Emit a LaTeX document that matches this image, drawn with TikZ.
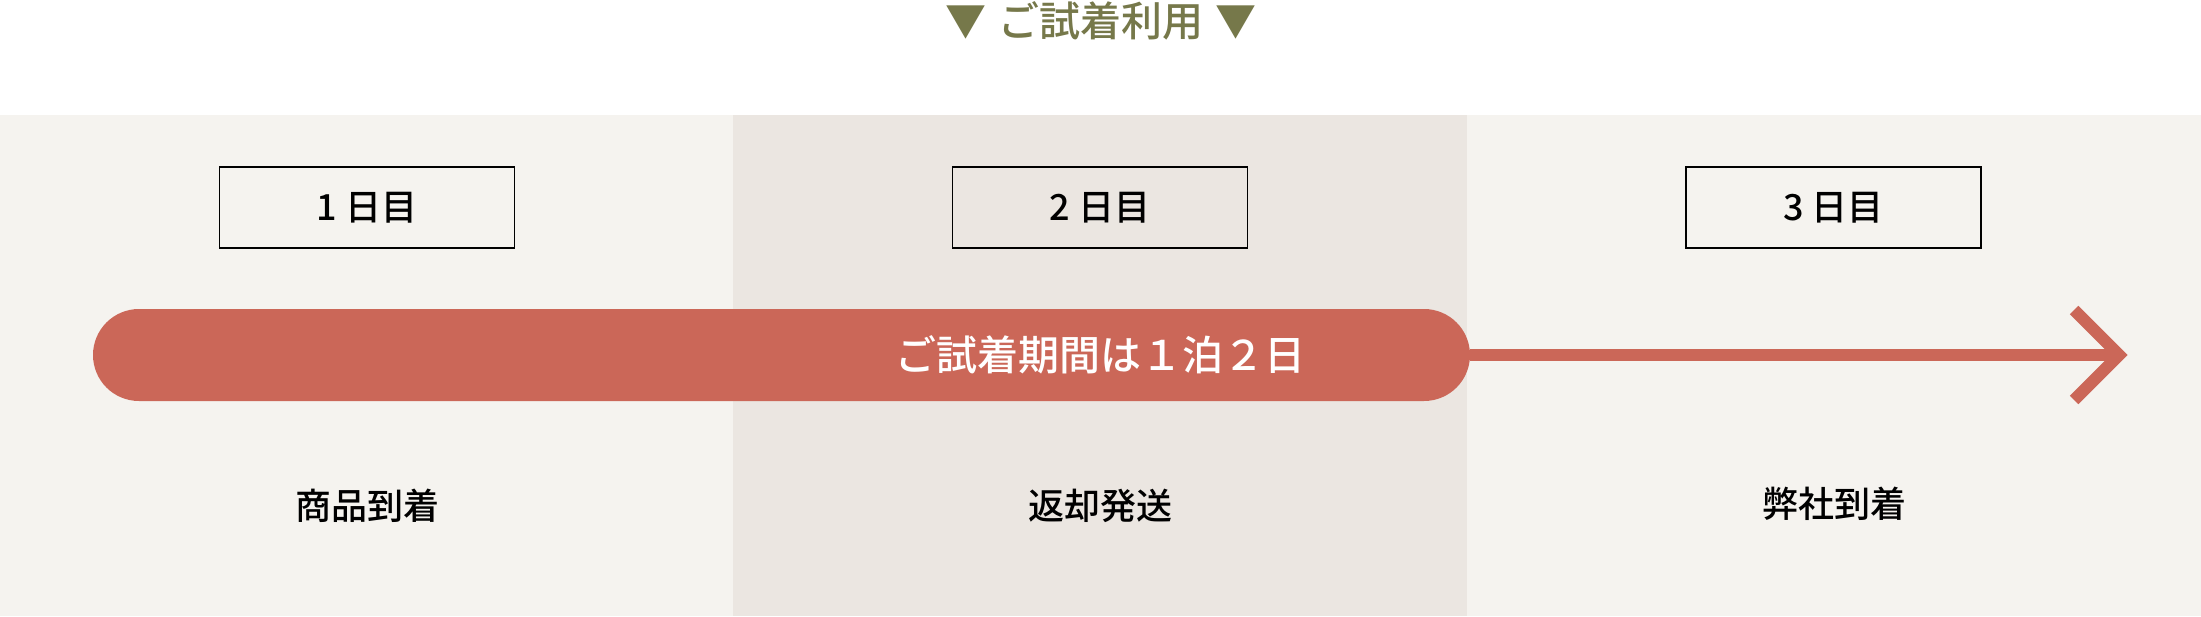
\documentclass[tikz,border=0pt]{standalone}
\usepackage{fontspec}
\setmainfont{Noto Sans CJK JP}[BoldFont={* Bold}]
\newfontfamily\mediumfont{Noto Sans CJK JP Medium}
\definecolor{Olive}{HTML}{76784A}
\definecolor{Trial}{HTML}{CB6758}
\definecolor{PanelLight}{HTML}{F5F3EF}
\definecolor{PanelDark}{HTML}{EBE6E1}

\tikzset{
  daybox/.style={draw=black, line width=1.8, minimum width=295, minimum height=81, inner sep=0,
    font=\mediumfont\fontsize{36}{40}\selectfont},
  steplabel/.style={inner sep=0, font=\mediumfont\fontsize{36}{40}\selectfont},
}

\begin{document}
\begin{tikzpicture}[x=1pt, y=-1pt]

  %%%%%%%%%% Frame %%%%%%%%%%
 \useasboundingbox (0,0) rectangle (2201,616);
 \fill [white] (0,0) rectangle (2201,616);

  %%%%%%%%%% Points pour travailler %%%%%%%%%%
 \coordinate (p0) at (0,115);
 \coordinate (p1) at (733,616);
 \coordinate (p2) at (1467,115);
 \coordinate (p3) at (2201,616);
 \coordinate (tip) at (2119,355);
 \coordinate (armup) at (2074,310);
 \coordinate (armdown) at (2074,400);

 %%%%%%%%%% Panels %%%%%%%%%%
 \fill [color=PanelLight] (p0) rectangle (p3) ;
 \fill [color=PanelDark] (733,115) rectangle (1467,616) ;

 %%%%%%%%%% Title %%%%%%%%%%
 \node (title) at (1101,20.5) [inner sep=0, text=Olive, font=\mediumfont\fontsize{41}{44}\selectfont]
   {▼\hspace{12pt}ご試着利用\hspace{12pt}▼};

 %%%%%%%%%% Days %%%%%%%%%%
 \node (day1) at (367,207.5) [daybox] {1 日目};
 \node (day2) at (1100,207.5) [daybox] {2 日目};
 \node (day3) at (1833.5,207.5) [daybox] {3 日目};

 %%%%%%%%%%% Trial bar %%%%%%%%%%%
 \node (bar) at (781.5,355) [fill=Trial, rounded corners=46, minimum width=1377, minimum height=92, inner sep=0] {};
 \node (bartext) at (1100,355) [inner sep=0, text=white, font=\mediumfont\fontsize{41}{44}\selectfont]
   {ご試着期間は１泊２日};

 \draw [line width=12, color=Trial] (bar.east) -- (tip) ;
 \draw [line width=12, color=Trial, miter limit=4] (armup) -- (tip) -- (armdown) ;

 %%%%%%%%%%% Steps %%%%%%%%%%%
 \node (step1) at (367,506) [steplabel] {商品到着};
 \node (step2) at (1100,506) [steplabel] {返却発送};
 \node (step3) at (1834,504) [steplabel] {弊社到着};

\end{tikzpicture}
\end{document}
